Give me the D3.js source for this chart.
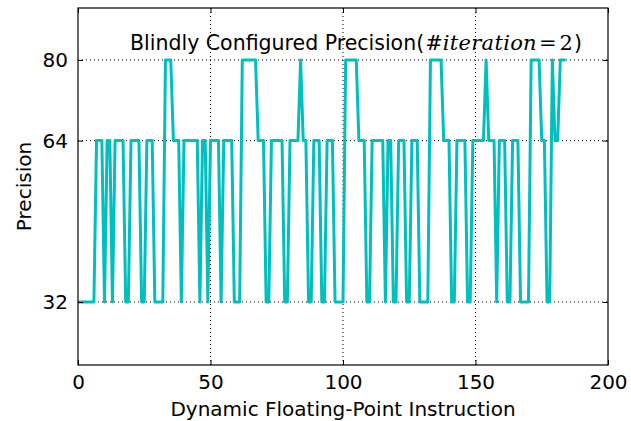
<!DOCTYPE html>
<html>
<head>
<meta charset="utf-8">
<script src="https://d3js.org/d3.v7.min.js"></script>
<style>
  body { margin: 0; background: #fff; }
  svg { display: block; font-family: "DejaVu Sans", sans-serif; }
</style>
</head>
<body>
<div id="chart"></div>
<script>

/////////////////////////////////////////////////////////////////////////////
                      ///////    Data    ///////
/////////////////////////////////////////////////////////////////////////////

// precision chosen for each dynamic floating-point instruction (index = instruction)
var precision = [
  32,32,32,32,32,32,32,64,64,64,
  32,64,64,32,64,64,64,64,32,32,
  64,64,64,64,32,32,64,64,64,32,
  32,32,32,80,80,80,64,64,64,32,
  64,64,64,64,64,64,32,64,64,32,
  64,64,64,64,32,64,64,64,64,32,
  32,32,80,80,80,80,80,80,64,64,
  64,32,32,64,64,64,64,64,32,32,
  64,64,64,64,80,64,64,32,32,64,
  64,64,32,32,64,64,64,32,32,32,
  32,80,80,80,80,80,64,64,64,32,
  32,64,64,64,64,64,32,64,64,32,
  32,64,64,64,32,32,64,64,64,32,
  32,32,32,80,80,80,80,80,64,64,
  64,32,32,64,64,64,64,32,32,64,
  64,64,64,64,80,64,64,64,32,64,
  64,64,32,32,64,64,64,32,32,32,
  32,80,80,80,80,64,64,32,32,80,
  64,64,80,80,80
];

var xTicks = [0, 50, 100, 150, 200];
var yTicks = [32, 64, 80];
var xDomain = [0, 200];
var yDomain = [19.5, 90.3];

var titleText = "Blindly Configured Precision(";
var xLabel = "Dynamic Floating-Point Instruction";
var yLabel = "Precision";

/////////////////////////////////////////////////////////////////////////////
                      ///////    Layout    ///////
/////////////////////////////////////////////////////////////////////////////

var w = 631, h = 421;
var margin = {top: 8, right: 23, bottom: 56, left: 78};
var iw = w - margin.left - margin.right;
var ih = h - margin.top - margin.bottom;
var lineColor = "#00bfbf";
var fontSize = 20;

var svg = d3.select("#chart").append("svg")
    .attr("width", w).attr("height", h);
var g = svg.append("g").attr("transform", "translate(" + margin.left + "," + margin.top + ")");

var x = d3.scaleLinear().domain(xDomain).range([0, iw]);
var y = d3.scaleLinear().domain(yDomain).range([ih, 0]);

// dotted grid (matplotlib "k:")
g.append("g").selectAll("line").data(yTicks).enter().append("line")
    .attr("x1", 0).attr("x2", iw)
    .attr("y1", d => y(d)).attr("y2", d => y(d))
    .attr("stroke", "#000").attr("stroke-width", 1)
    .attr("stroke-dasharray", "1,3");

g.append("g").selectAll("line").data(xTicks.slice(1, -1)).enter().append("line")
    .attr("x1", d => x(d)).attr("x2", d => x(d))
    .attr("y1", 0).attr("y2", ih)
    .attr("stroke", "#000").attr("stroke-width", 1)
    .attr("stroke-dasharray", "1,3");

// the series
var line = d3.line()
    .x((d, i) => x(i))
    .y(d => y(d));

g.append("path")
    .datum(precision)
    .attr("d", line)
    .attr("fill", "none")
    .attr("stroke", lineColor)
    .attr("stroke-width", 3)
    .attr("stroke-linejoin", "round");

// axes: ticks point inward, on all four sides
var xBottom = g.append("g").attr("transform", "translate(0," + ih + ")")
    .call(d3.axisBottom(x).tickValues(xTicks).tickSize(-5).tickPadding(10).tickFormat(d3.format("d")));
var xTop = g.append("g")
    .call(d3.axisTop(x).tickValues(xTicks).tickSize(-5).tickFormat(""));
var yLeft = g.append("g")
    .call(d3.axisLeft(y).tickValues(yTicks).tickSize(-5).tickPadding(10).tickFormat(d3.format("d")));
var yRight = g.append("g").attr("transform", "translate(" + iw + ",0)")
    .call(d3.axisRight(y).tickValues(yTicks).tickSize(-5).tickFormat(""));

[xBottom, xTop, yLeft, yRight].forEach(a => {
  a.select(".domain").remove();
  a.selectAll(".tick line").attr("stroke", "#000").attr("stroke-width", 1);
  a.selectAll("text").attr("font-family", "DejaVu Sans").attr("font-size", fontSize).attr("fill", "#000");
});

// frame
g.append("rect")
    .attr("width", iw).attr("height", ih)
    .attr("fill", "none").attr("stroke", "#000").attr("stroke-width", 1.2);

// title inside the axes, with the mathtext part in serif
var title = g.append("text")
    .attr("x", 52).attr("y", 42)
    .attr("font-size", 20.5).attr("fill", "#000");
title.append("tspan").text(titleText);
title.append("tspan").attr("font-family", "DejaVu Serif").attr("font-size", 21).attr("dx", 1).text("#");
title.append("tspan").attr("font-family", "DejaVu Serif").attr("font-size", 21).attr("font-style", "italic")
    .attr("letter-spacing", 0.3).text("iteration");
title.append("tspan").attr("font-family", "DejaVu Serif").attr("font-size", 21).attr("dx", 2).text("=");
title.append("tspan").attr("font-family", "DejaVu Serif").attr("font-size", 21).attr("dx", 3).text("2");
title.append("tspan").attr("dx", 1).text(")");

// axis labels
svg.append("text")
    .attr("x", margin.left + iw / 2).attr("y", 416)
    .attr("text-anchor", "middle")
    .attr("font-size", fontSize)
    .text(xLabel);

svg.append("text")
    .attr("transform", "translate(31," + (margin.top + ih / 2) + ") rotate(-90)")
    .attr("text-anchor", "middle")
    .attr("font-size", fontSize)
    .text(yLabel);

</script>
</body>
</html>
